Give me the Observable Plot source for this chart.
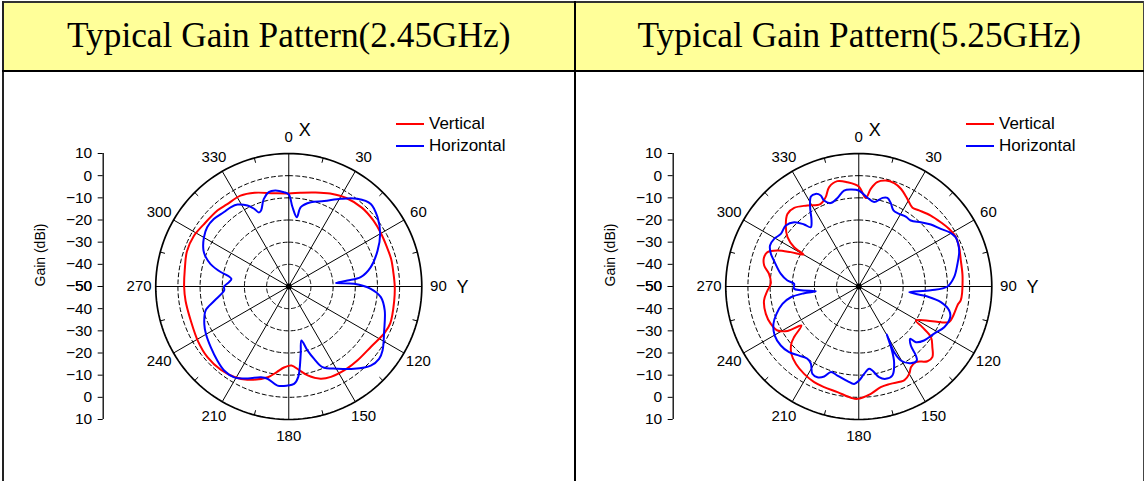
<!DOCTYPE html>
<html><head><meta charset="utf-8">
<script src="https://cdn.jsdelivr.net/npm/d3@7"></script>
<script src="https://cdn.jsdelivr.net/npm/@observablehq/plot@0.6"></script>
<style>
body{margin:0;width:1144px;height:481px;overflow:hidden;background:#fff;position:relative;font-family:"Liberation Sans",Arial,sans-serif;}
.hdr{position:absolute;top:2px;height:68px;background:#FFFF99;display:flex;align-items:center;justify-content:center;font-family:"Liberation Serif","Times New Roman",serif;font-size:35.3px;color:#000;}
.ln{position:absolute;background:#000;z-index:5;}
.chart{position:absolute;top:72px;width:572px;height:408px;}
.legline{position:absolute;width:28px;height:2px;}
.legtxt{position:absolute;font-size:17px;line-height:20px;color:#000;white-space:nowrap;}
</style>
</head><body>
<script>
// ---- data ----
const titles = ["Typical Gain Pattern(2.45GHz)", "Typical Gain Pattern(5.25GHz)"];
const seriesNames = ["Vertical", "Horizontal"];
const seriesColors = ["#ff0000", "#0000ff"];
const gainTicks = [10, 0, -10, -20, -30, -40, -50];
const ringGains = [0, -10, -20, -30, -40];
const angleTicks = [0, 30, 60, 90, 120, 150, 180, 210, 240, 270, 300, 330];
const minorTicks = [15, 45, 75, 105, 135, 165, 195, 225, 255, 285, 315, 345];
const axisNames = ["X", "Y"];

// 2.45 GHz, Vertical
const v245Angle = [0,7,15,24,33,43,52,60,68,75, 83,90,98,110,116,126,137,145,155,161, 168,173,178,183,188,193,204,211,219,229, 239,251,262,270,279,289,298,306,317,323, 332,340,351];
const v245Gain = [-8,-7.4,-6.1,-4.1,-2.4,-1.5,-1.6,-2,-2.3,-2.2, -2.4,-2.2,-2,-1.3,-2,-4,-4.5,-4.6,-5,-6, -9,-12,-14.3,-13.5,-11,-8,-4,-2.4,-1.5,-1.4, -2.2,-3.2,-3,-2.8,-2.5,-1.4,-1.5,-2.5,-3,-3.6, -3.6,-5,-7.4];
// 2.45 GHz, Horizontal
const h245Angle = [0,2.6,6.6,8.6,14.6,22.5,30.7,38,44.8,52, 60,68,76.7,82.6,84.2,85.7,87.6,91.6,96.6,104, 114.8,124.3,128.7,134,141.6,149.4,157.3,160.7,163.7,166.8, 170,174,176.9,180.8,186.5,193,197,204,211,217.6, 224,232,240,246,254,259,266.5,270,274,277.6, 279.5,282,286,289.5,293,300,306,312,319,324, 328,333,336,338,340,344,348,352,357];
const h245Gain = [-8.5,-14,-18.5,-13.8,-10.7,-8.3,-4,0.2,2.5,0.8, -2.4,-6.8,-12,-17.3,-23.4,-28.7,-20.5,-13,-8.2,-5.4, -2.6,1.2,2.2,1.4,-2.6,-6.9,-10.6,-15.4,-20,-25, -19,-9,-6,-5.3,-5,-7.3,-7.2,-4.6,-2.2,-2.2, -3.6,-5.4,-6.9,-8.3,-11,-15.7,-20.8,-20.8,-22.9,-23.9, -22.7,-18.6,-13.3,-10.3,-8.2,-5.8,-4.5,-4.5,-5.5,-5.7, -6.4,-9,-11.6,-14,-13.5,-9,-6.5,-6.3,-7.4];
// 5.25 GHz, Vertical
const v525Angle = [0,4.5,7,10,14.3,18.9,23.3,29,34.3,38.4, 45.4,51.9,57.4,63,68.6,75.7,85,97.8,100,108, 111.5,115.2,120.8,122.6,125,129.5,133.8,137.4,143,147, 150,154,162,167.7,173.6,180.7,184,191.4,199,205, 212,219,225,229.6,232,235.8,238,241.6,247,253.6, 261.6,267.5,272,278,282.5,287,290.6,293.9,296.8,300, 301.3,304.7,309.9,315.5,320.6,327.6,335,339.7,343.4,348.5, 353.8];
const v525Gain = [-4.9,-9.9,-5.6,-2.2,-0.7,-0.7,-2,-4.8,-7,-6.2, -4.4,-3,-1.7,-0.9,-1.4,-2.5,-3,-3.6,-4.5,-5.5, -6.2,-13.3,-20,-16,-10.3,-7,-4,-4.2,-7.3,-6.7, -4.5,-3,-3.8,-3.5,-1.3,0.7,0.3,-1.4,-2,-2.4, -3.5,-5,-7,-10,-13,-18.7,-12.2,-8.3,-6.9,-6.3, -6.8,-8.8,-10.3,-9.1,-6.3,-5.3,-6,-9.9,-15.6,-21.2, -15.9,-10.9,-7.1,-4.1,-4.1,-6.7,-9,-7,-3.2,-1.5, -2.7];
// 5.25 GHz, Horizontal
const h525Angle = [0,5.6,10.3,15,17.9,21,24.5,29,33.9,38.2, 44,49.3,54.9,59,63,66.8,71,77,84.4,90, 93,96.4,98.3,100.8,104.9,108.6,115.5,122,129.6,134.3, 135.5,138.6,140.4,141.9,145.8,150.4,151.7,150.7,149.7,152.3, 155,159.3,163.7,167.4,170.8,172.8,176.5,179.8,182.7,186.8, 193.5,198,201,204.5,208,211.8,215.4,220.8,226.7,232.9, 239.7,246.4,251.6,257.2,261,263,263.8,268,272.4,274.8, 279.2,287,290.4,294.8,299.4,304,309.9,314.9,318.6,321, 324.4,328.5,332,335,337.3,338,341.4,346.5,351.3,355.3];
const h525Gain = [-6.7,-9.8,-11.3,-8.6,-8,-9.7,-12.3,-12.5,-12,-12.1, -9.7,-7.1,-4.8,-2.4,-1,-1.2,-2.1,-4.3,-6.8,-10, -17.5,-27.1,-18.7,-12.3,-7.8,-6.5,-7.3,-9.9,-11.8,-14, -16.9,-14.5,-9.6,-7.6,-8.2,-11.6,-16.4,-22,-25,-18.3, -12.3,-7.1,-6.6,-8.1,-11.6,-12.6,-10.5,-7.6,-6,-7, -8.7,-9.4,-6.5,-5,-5.4,-9,-10,-8.8,-6.8,-5.9, -6.1,-8,-10.9,-14.7,-19,-25.2,-30.5,-20.8,-20.8,-17.7, -14.4,-10,-7.7,-5.9,-6.2,-7.6,-7.1,-8.9,-12.7,-15.6, -13.4,-8,-4,-3.9,-5.5,-8.2,-10.3,-8.9,-6.2,-6.1];

// ---- geometry helpers ----
const GMIN = -50, GMAX = 10, RMAX = GMAX - GMIN;
const AXIS_X = -RMAX - 23.7;     // left value axis sits left of the polar disc
const LABEL_OFF = 7.5;           // angle labels outside the rim (dB units)
const rad = a => a * Math.PI / 180;
const px = (a, g) => (g - GMIN) * Math.sin(rad(a));
const py = (a, g) => (g - GMIN) * Math.cos(rad(a));
const fmtGain = v => { const g = Math.abs(v) + GMIN; return g < 0 ? "\u2212" + (-g) : String(g); };
const circleAngles = d3.range(0, 361, 2);

function series(A, G) { return A.map((a, i) => ({a, g: G[i]})); }

function chart(vA, vG, hA, hG) {
  const ringPts = ringGains.flatMap(g => circleAngles.map(a => ({a, g})));
  const rimPts = circleAngles.map(a => ({a, g: GMAX}));
  const lineOpts = {x: d => px(d.a, d.g), y: d => py(d.a, d.g), strokeWidth: 2, curve: "catmull-rom-closed"};
  const axisOpts = {anchor: "left", tickSize: 5, tickPadding: 6, fontSize: 15.5, label: null, tickFormat: fmtGain};
  return Plot.plot({
    width: 572, height: 408,
    marginLeft: 102.7, marginRight: 150.7, marginTop: 81, marginBottom: 61,
    x: {domain: [AXIS_X, RMAX], axis: null},
    y: {domain: [-RMAX, RMAX], axis: null},
    style: {background: "transparent", fontFamily: "'Liberation Sans', Arial, sans-serif", fontSize: "14px", color: "black", overflow: "visible"},
    marks: [
      Plot.line(ringPts, {x: d => px(d.a, d.g), y: d => py(d.a, d.g), z: "g", stroke: "black", strokeWidth: 1, strokeDasharray: "4,3"}),
      Plot.link(angleTicks, {x1: 0, y1: 0, x2: a => px(a, GMAX), y2: a => py(a, GMAX), stroke: "black", strokeWidth: 1}),
      Plot.link(minorTicks, {x1: a => px(a, GMAX - 2.2), y1: a => py(a, GMAX - 2.2), x2: a => px(a, GMAX), y2: a => py(a, GMAX), stroke: "black", strokeWidth: 1}),
      Plot.line(rimPts, {x: d => px(d.a, d.g), y: d => py(d.a, d.g), stroke: "black", strokeWidth: 1.7}),
      Plot.dot([GMIN], {x: g => px(0, g), y: g => py(0, g), r: 3, fill: "black"}),
      Plot.line(series(vA, vG), {...lineOpts, stroke: seriesColors[0]}),
      Plot.line(series(hA, hG), {...lineOpts, stroke: seriesColors[1]}),
      Plot.text(angleTicks, {x: a => px(a, GMAX + LABEL_OFF), y: a => py(a, GMAX + LABEL_OFF), text: a => String(a), fontSize: 15}),
      Plot.text([axisNames[0]], {x: px(0, GMAX + LABEL_OFF), y: py(0, GMAX + LABEL_OFF), text: d => d, fontSize: 18, dx: 16, dy: -7}),
      Plot.text([axisNames[1]], {x: px(90, GMAX + LABEL_OFF), y: py(90, GMAX + LABEL_OFF), text: d => d, fontSize: 18, dx: 24, dy: 1}),
      Plot.ruleX([AXIS_X], {y1: -RMAX, y2: RMAX, stroke: "black", strokeWidth: 1.3}),
      Plot.axisY(gainTicks.map(g => g - GMIN), axisOpts),
      Plot.axisY(gainTicks.map(g => -(g - GMIN)), axisOpts),
      Plot.text(["Gain (dBi)"], {frameAnchor: "left", dx: -63, rotate: -90, text: d => d, fontSize: 14})
    ]
  });
}

const panels = [
  {ox: 0, cell: [4, 569.5], data: [v245Angle, v245Gain, h245Angle, h245Gain]},
  {ox: 570, cell: [575.5, 567.5], data: [v525Angle, v525Gain, h525Angle, h525Gain]}
];

panels.forEach((p, i) => {
  const h = document.createElement("div");
  h.className = "hdr";
  h.style.left = p.cell[0] + "px";
  h.style.width = p.cell[1] + "px";
  h.textContent = titles[i];
  document.body.appendChild(h);

  const c = document.createElement("div");
  c.className = "chart";
  c.style.left = p.ox + "px";
  c.appendChild(chart(...p.data));
  document.body.appendChild(c);

  seriesNames.forEach((name, k) => {
    const l = document.createElement("div");
    l.className = "legline";
    l.style.left = (p.ox + 396) + "px";
    l.style.top = (122.5 + 22.5 * k) + "px";
    l.style.background = seriesColors[k];
    document.body.appendChild(l);
    const t = document.createElement("div");
    t.className = "legtxt";
    t.style.left = (p.ox + 429) + "px";
    t.style.top = (113.5 + 22.5 * k) + "px";
    t.textContent = name;
    document.body.appendChild(t);
  });
});

// table rules
[
  {l: 2, t: 0.5, w: 1142, h: 2, c: "#333"},
  {l: 2, t: 1, w: 1.5, h: 480, c: "#222"},
  {l: 1142.5, t: 1, w: 1.5, h: 480, c: "#444"},
  {l: 2, t: 69.5, w: 1142, h: 2, c: "#000"},
  {l: 573.5, t: 1, w: 2, h: 480, c: "#000"}
].forEach(r => {
  const d = document.createElement("div");
  d.className = "ln";
  Object.assign(d.style, {left: r.l + "px", top: r.t + "px", width: r.w + "px", height: r.h + "px", background: r.c});
  document.body.appendChild(d);
});
</script>
</body></html>
